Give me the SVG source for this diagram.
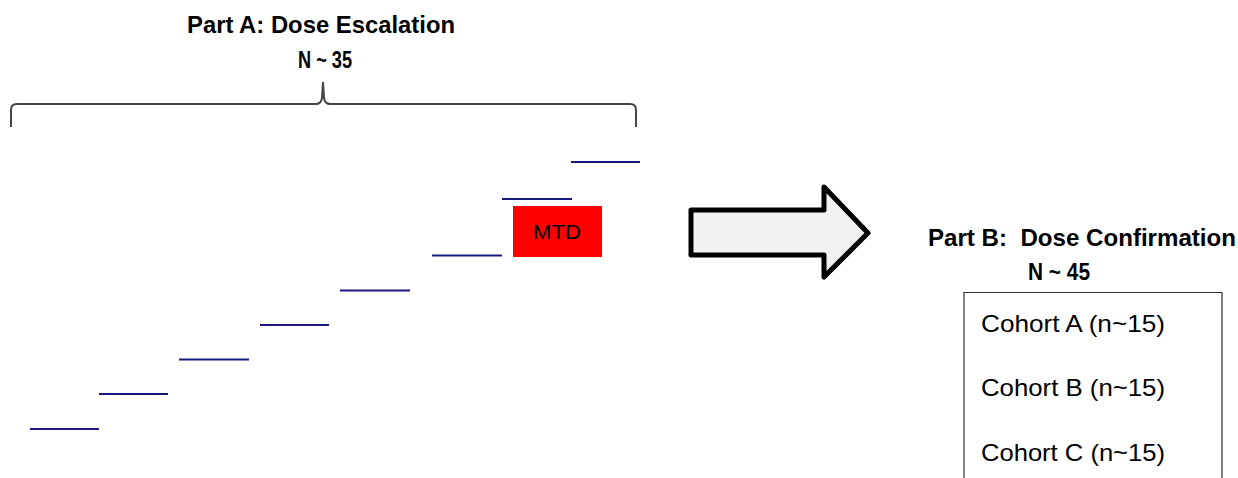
<svg xmlns="http://www.w3.org/2000/svg" width="1238" height="478" viewBox="0 0 1238 478">
<style>
.title{font-family:"Liberation Sans",Arial,sans-serif;font-weight:bold;font-size:24px;fill:#000}
.coh{font-family:"Liberation Sans",Arial,sans-serif;font-size:24px;fill:#000}
.step{stroke:#1a1a7a;stroke-width:2.2;fill:none}
</style>
<rect width="1238" height="478" fill="#fff"/>
<g id="partA-title">
<text class="title" x="187" y="32.5" textLength="268" lengthAdjust="spacingAndGlyphs">Part A: Dose Escalation</text>
<text class="title" x="298" y="68" textLength="54" lengthAdjust="spacingAndGlyphs">N ~ 35</text>
</g>
<g id="brace">
<path d="M11,127 L11,110 Q11,104 17,104 L316,104 Q321,104 322,98 L323,82 L324,98 Q325,104 330,104 L630,104 Q636,104 636,110 L636,127" fill="none" stroke="#444" stroke-width="2"/>
</g>
<g id="steps">
<line class="step" x1="30" y1="429" x2="99" y2="429"/>
<line class="step" x1="99" y1="394" x2="168" y2="394"/>
<line class="step" x1="179" y1="359.5" x2="249" y2="359.5"/>
<line class="step" x1="260" y1="325" x2="329" y2="325"/>
<line class="step" x1="340" y1="290.5" x2="410" y2="290.5"/>
<line class="step" x1="432" y1="255.5" x2="502" y2="255.5"/>
<line class="step" x1="502" y1="199" x2="572" y2="199"/>
<line class="step" x1="571" y1="162" x2="640" y2="162"/>
</g>
<g id="mtd">
<rect x="513" y="206" width="89" height="51" fill="#ff0000"/>
<text x="557" y="239" text-anchor="middle" font-family="'Liberation Sans',Arial,sans-serif" font-size="19.5" textLength="48" lengthAdjust="spacingAndGlyphs">MTD</text>
</g>
<g id="connectors">
<path d="M691,210 L824,210 L824,187 L868,233 L824,277 L824,255 L691,255 Z" fill="#f2f2f2" stroke="#000" stroke-width="5" stroke-linejoin="round"/>
</g>
<g id="partB-title">
<text class="title" x="928" y="246" textLength="308" lengthAdjust="spacingAndGlyphs" xml:space="preserve">Part B:  Dose Confirmation</text>
<text class="title" x="1028" y="280" textLength="62" lengthAdjust="spacingAndGlyphs">N ~ 45</text>
</g>
<g id="cohorts">
<path d="M964,480 L964,292.5 L1222,292.5 L1222,480" fill="none" stroke="#333" stroke-width="1.2"/>
<text class="coh" x="981" y="331.5" textLength="184" lengthAdjust="spacingAndGlyphs">Cohort A (n~15)</text>
<text class="coh" x="981" y="396" textLength="184" lengthAdjust="spacingAndGlyphs">Cohort B (n~15)</text>
<text class="coh" x="981" y="461" textLength="184" lengthAdjust="spacingAndGlyphs">Cohort C (n~15)</text>
</g>
</svg>
